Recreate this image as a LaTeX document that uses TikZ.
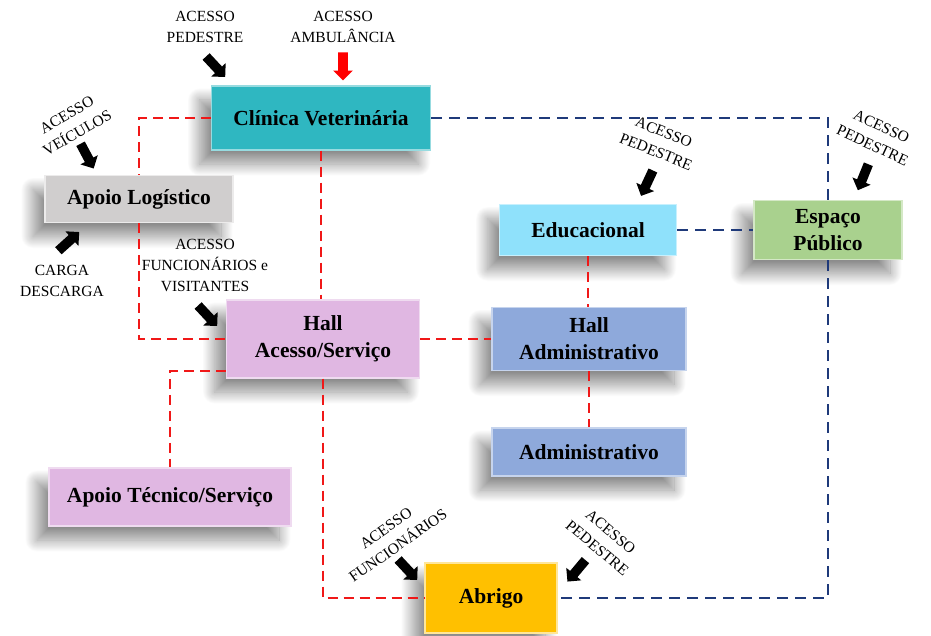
\documentclass[tikz,border=0pt]{standalone}
\usepackage{fontspec}
\setmainfont{Liberation Serif}
\usetikzlibrary{shapes.arrows,shadows.blur,calc}
\definecolor{cvet}{HTML}{2FB7C1}
\definecolor{clog}{HTML}{D0CECE}
\definecolor{cedu}{HTML}{8FE1FB}
\definecolor{cpub}{HTML}{A9D18E}
\definecolor{chall}{HTML}{E0B7E2}
\definecolor{cadm}{HTML}{8EA9DB}
\definecolor{cabr}{HTML}{FFC000}
\definecolor{linkred}{HTML}{F01818}
\definecolor{linkblue}{HTML}{1F3A7A}

\begin{document}
\begin{tikzpicture}[x=1pt, y=-1pt, semithick]
    \tikzstyle{room}=[rectangle, line width=1.3pt, align=center, inner sep=2pt,
        font=\fontsize{21.5}{27}\selectfont\bfseries,
        blur shadow={shadow xshift=-12pt, shadow yshift=-14pt, shadow blur radius=12pt,
            shadow blur steps=30, shadow opacity=45}]
    \tikzstyle{lbl}=[align=center, inner sep=0pt, font=\fontsize{15.5}{21}\selectfont]
    \tikzstyle{blk}=[single arrow, fill=black, single arrow head extend=5pt,
        single arrow head indent=0pt, inner sep=4.5pt, minimum height=28pt]
    \tikzstyle{redl}=[draw=linkred, line width=2pt, dash pattern=on 10pt off 6pt]
    \tikzstyle{bluel}=[draw=linkblue, line width=2pt, dash pattern=on 11pt off 7pt]

    \useasboundingbox (0,0) rectangle (931,636);

    % rooms
    \node[room, fill=cvet, draw=cvet!50!white, minimum width=219, minimum height=64]   (clinica) at (321,118) {Clínica Veterinária};
    \node[room, fill=clog, draw=clog!40!white, minimum width=188, minimum height=47]   (logist)  at (139,199) {Apoio Logístico};
    \node[room, fill=cedu, draw=cedu!50!white, minimum width=177, minimum height=51]   (educ)    at (588,230) {Educacional};
    \node[room, fill=cpub, draw=cpub!50!white, minimum width=148, minimum height=59]   (espaco)  at (828,230) {Espaço\\Público};
    \node[room, fill=chall, draw=chall!50!white, minimum width=193, minimum height=78] (hall)    at (323,339) {Hall\\Acesso/Serviço};
    \node[room, fill=cadm, draw=cadm!50!white, minimum width=194, minimum height=63]   (hadm)    at (589,339) {Hall\\Administrativo};
    \node[room, fill=cadm, draw=cadm!50!white, minimum width=194, minimum height=48]   (adm)     at (589,452) {Administrativo};
    \node[room, fill=chall, draw=chall!50!white, minimum width=242, minimum height=58] (tecnico) at (170,497) {Apoio Técnico/Serviço};
    \node[room, fill=cabr, draw=cabr!40!white, minimum width=132, minimum height=70]   (abrigo)  at (491,598) {Abrigo};

    % service links
    \draw[redl] (clinica.west) -| (logist.north);
    \draw[redl] (logist.south) |- (hall.west);
    \draw[redl] (clinica.south) -- (clinica.south |- hall.north);
    \draw[redl] (hall.east) -- (hall.east -| hadm.west);
    \draw[redl] ([yshift=8pt]hall.south west) -| (tecnico.north);
    \draw[redl] (hall.south) |- (abrigo.west);
    \draw[redl] (educ.south) -- (educ.south |- hadm.north);
    \draw[redl] (hadm.south) -- (adm.north);

    % public links
    \draw[bluel] (clinica.east) -| (espaco.north);
    \draw[bluel] (educ.east) -- (educ.east -| espaco.west);
    \draw[bluel] (espaco.south) |- (abrigo.east);

    % accesses
    \node[lbl]              (tPed)  at (205,27)  {ACESSO\\PEDESTRE};
    \node[blk, rotate=-47]  (aPed)  at (214,65)  {};
    \node[lbl]              (tAmb)  at (343,27)  {ACESSO\\AMBULÂNCIA};
    \node[blk, fill=red, rotate=-90] (aAmb) at (343,64) {};
    \node[lbl, rotate=30]   (tVei)  at (72,124)  {ACESSO\\VEÍCULOS};
    \node[blk, rotate=-62]  (aVei)  at (86,154)  {};
    \node[blk, rotate=42]   (aCar)  at (67,243)  {};
    \node[lbl]              (tCar)  at (62,281)  {CARGA\\DESCARGA};
    \node[lbl]              (tFun)  at (205,265) {ACESSO\\FUNCIONÁRIOS e\\VISITANTES};
    \node[blk, rotate=-47]  (aFun)  at (206,314) {};
    \node[lbl, rotate=-22]  (tEdu)  at (660,142) {ACESSO\\PEDESTRE};
    \node[blk, rotate=-115] (aEdu)  at (648,181) {};
    \node[lbl, rotate=-25]  (tPub)  at (877,136) {ACESSO\\PEDESTRE};
    \node[blk, rotate=-112] (aPub)  at (864,175) {};
    \node[lbl, rotate=35]   (tAbF)  at (392,537) {ACESSO\\FUNCIONÁRIOS};
    \node[blk, rotate=-47]  (aAbF)  at (406,568) {};
    \node[lbl, rotate=-40]  (tAbP)  at (604,540) {ACESSO\\PEDESTRE};
    \node[blk, rotate=-130] (aAbP)  at (578,569) {};
\end{tikzpicture}
\end{document}
